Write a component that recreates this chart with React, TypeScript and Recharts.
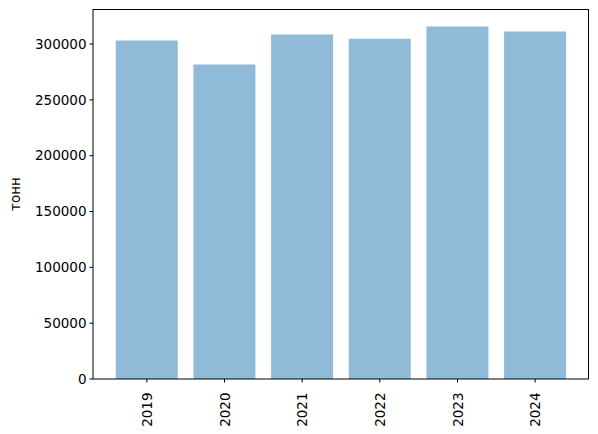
import React from "react";
import { BarChart, Bar, XAxis, YAxis } from "recharts";

const years = ["2019", "2020", "2021", "2022", "2023", "2024"];
const tonnes = [303200, 281700, 308600, 304700, 315800, 311300];
const yTicks = [0, 50000, 100000, 150000, 200000, 250000, 300000];

const data = years.map((y, i) => ({ year: y, value: tonnes[i] }));

const FONT = "'DejaVu Sans', sans-serif";

const XTick = (props: any) => {
  const { x, y, payload } = props;
  const ty = y + 8;
  return (
    <text
      x={x}
      y={ty}
      transform={`rotate(-90, ${x}, ${ty})`}
      textAnchor="end"
      dominantBaseline="central"
      fontSize={13.5}
      fontFamily={FONT}
      fill="#000"
    >
      {payload.value}
    </text>
  );
};

export default function App() {
  return (
    <div style={{ position: "absolute", left: 0, top: 0, width: 598, height: 434, background: "#fff" }}>
      <BarChart
        width={598}
        height={434}
        data={data}
        margin={{ top: 9, right: 9, bottom: 0, left: 0 }}
        barCategoryGap="10%"
      >
        <XAxis
          dataKey="year"
          height={55}
          padding={{ left: 15, right: 15 }}
          tick={<XTick />}
          tickSize={3.5}
          stroke="#000"
          interval={0}
        />
        <YAxis
          width={93}
          domain={[0, 331400]}
          ticks={yTicks}
          tickSize={3.5}
          tickMargin={3}
          stroke="#000"
          tick={{ fill: "#000", fontSize: 13.5, fontFamily: FONT }}
          allowDataOverflow
          label={{
            value: "тонн",
            angle: -90,
            position: "insideLeft",
            dx: 10,
            style: { fill: "#000", fontSize: 13.5, fontFamily: FONT, textAnchor: "middle" },
          }}
        />
        <Bar dataKey="value" fill="#8fbbd9" isAnimationActive={false} />
      </BarChart>
      <div
        style={{
          position: "absolute",
          left: 93,
          top: 9,
          width: 496,
          height: 370,
          boxSizing: "border-box",
          borderTop: "1px solid #000",
          borderRight: "1px solid #000",
          pointerEvents: "none",
        }}
      />
    </div>
  );
}
